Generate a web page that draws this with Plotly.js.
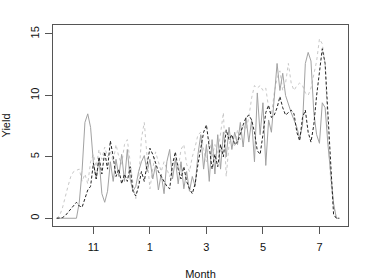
<!DOCTYPE html>
<html><head><meta charset="utf-8">
<script src="https://cdn.plot.ly/plotly-3.0.1.min.js"></script>
<style>html,body{margin:0;padding:0;background:#fff}#c{width:374px;height:280px}</style>
</head><body><div id="c"></div>
<script>
// month index: 11=Nov, 13=Jan, 15=Mar, 17=May, 19=Jul
var month = [9.7,9.8,9.9,10.0,10.1,10.2,10.3,10.4,10.5,10.6,10.7,10.8,10.9,11.0,11.1,11.2,11.3,11.4,11.5,11.6,11.7,11.8,11.9,12.0,12.1,12.2,12.3,12.4,12.5,12.6,12.7,12.8,12.9,13.0,13.1,13.2,13.3,13.4,13.5,13.6,13.7,13.8,13.9,14.0,14.1,14.2,14.3,14.4,14.5,14.6,14.7,14.8,14.9,15.0,15.1,15.2,15.3,15.4,15.5,15.6,15.7,15.8,15.9,16.0,16.1,16.2,16.3,16.4,16.5,16.6,16.7,16.8,16.9,17.0,17.1,17.2,17.3,17.4,17.5,17.6,17.7,17.8,17.9,18.0,18.1,18.2,18.3,18.4,18.5,18.6,18.7,18.8,18.9,19.0,19.1,19.2,19.3,19.4,19.5,19.6,19.7];
var solidSeries = [0,0,0,0,0,0,0,0,1.3,3.9,7.8,8.5,7.4,4.5,3.2,4.8,2.0,1.3,2.2,4.6,3.0,4.8,3.4,5.2,3.0,5.6,3.2,2.2,2.6,3.8,4.6,5.1,3.8,4.8,3.2,4.3,2.3,3.6,2.0,4.6,5.6,3.2,4.8,2.8,4.6,2.4,3.8,2.2,3.4,2.6,5.2,6.8,4.0,6.0,3.0,6.4,3.6,6.8,4.0,7.0,5.0,7.4,5.6,7.0,6.0,7.8,5.8,8.2,6.2,8.0,4.6,10.2,6.8,9.4,4.3,8.0,7.0,9.6,12.6,10.4,11.8,10.0,9.2,8.6,8.0,7.4,6.5,7.6,12.6,13.5,12.8,8.6,6.8,6.1,9.4,9.0,6.0,3.5,1.2,0,0];
var dashedSeries = [0,0,0.05,0.2,0.5,0.8,1.1,1.3,1.0,0.9,1.6,2.3,2.6,4.5,3.2,5.0,3.6,5.4,4.0,6.3,5.0,3.4,4.0,2.8,3.6,3.0,4.2,2.2,1.8,2.6,3.8,3.0,4.4,5.7,5.2,4.4,3.8,3.4,3.0,2.6,2.4,4.4,5.4,4.0,3.2,4.2,3.0,2.4,2.0,2.8,4.4,5.6,7.0,7.6,6.0,4.0,5.2,4.2,6.0,5.0,7.2,6.4,6.8,6.0,6.2,7.0,7.6,8.2,8.4,8.0,7.0,5.5,5.2,6.8,8.6,9.2,8.2,8.4,9.0,9.9,9.0,8.4,8.6,8.8,8.5,7.0,6.3,8.2,8.8,7.0,6.2,7.6,10.0,12.0,13.8,12.6,8.5,4.0,0.3,0,0];
var dottedSeries = [0,0.2,0.8,1.8,2.6,3.4,3.8,3.9,4.0,3.0,3.6,2.8,4.6,5.2,4.2,5.6,4.8,5.8,5.0,5.4,4.6,6.0,5.0,4.4,6.0,6.4,4.6,2.8,1.6,3.0,6.5,7.8,5.0,2.4,4.0,5.4,4.6,3.8,4.6,4.0,3.4,4.2,5.0,4.0,5.6,6.0,4.4,3.8,5.0,5.8,6.8,7.0,5.6,4.6,6.4,5.0,6.0,5.2,6.8,8.6,3.4,6.0,6.8,5.8,7.2,6.4,7.6,7.2,8.2,9.8,10.8,10.6,10.8,10.4,10.6,9.0,8.4,10.2,11.4,12.0,10.4,11.0,12.6,11.0,10.4,10.8,11.0,10.8,10.2,10.0,10.6,11.8,12.8,14.6,14.2,12.6,7.0,3.0,1.0,0,0];
var xTickVals = [11,13,15,17,19];
var xTickText = ['11','1','3','5','7'];
var yTickVals = [0,5,10,15];

var traces = [
  {x: month, y: dottedSeries, type:'scatter', mode:'lines', line:{color:'#c8c8c8', width:1, dash:'dot'}, hoverinfo:'skip'},
  {x: month, y: solidSeries, type:'scatter', mode:'lines', line:{color:'#a2a2a2', width:1}, hoverinfo:'skip'},
  {x: month, y: dashedSeries, type:'scatter', mode:'lines', line:{color:'#222', width:1, dash:'3px,2px'}, hoverinfo:'skip'}
];
var axFont = {family:'Liberation Sans, Arial, sans-serif', size:11, color:'#111'};
var layout = {
  width:374, height:280,
  margin:{l:53, r:26, t:25, b:54, pad:0},
  paper_bgcolor:'#fff', plot_bgcolor:'#fff',
  showlegend:false,
  font: axFont,
  xaxis:{
    range:[9.57,20.01], showgrid:false, zeroline:false,
    showline:true, mirror:true, linecolor:'#555', linewidth:1,
    ticks:'outside', ticklen:7, tickcolor:'#555', tickwidth:1,
    ticklabelstandoff:4,
    tickvals:xTickVals, ticktext:xTickText, tickfont:axFont,
    title:{text:'Month', font:axFont, standoff:19}
  },
  yaxis:{
    range:[-0.63,15.73], showgrid:false, zeroline:false,
    showline:true, mirror:true, linecolor:'#555', linewidth:1,
    ticks:'outside', ticklen:7, tickcolor:'#555', tickwidth:1,
    ticklabelstandoff:2,
    tickvals:yTickVals, tickangle:-90, tickfont:axFont,
    title:{text:'Yield', font:axFont, standoff:16}
  }
};
Plotly.newPlot('c', traces, layout, {staticPlot:true, displayModeBar:false});
</script></body></html>
